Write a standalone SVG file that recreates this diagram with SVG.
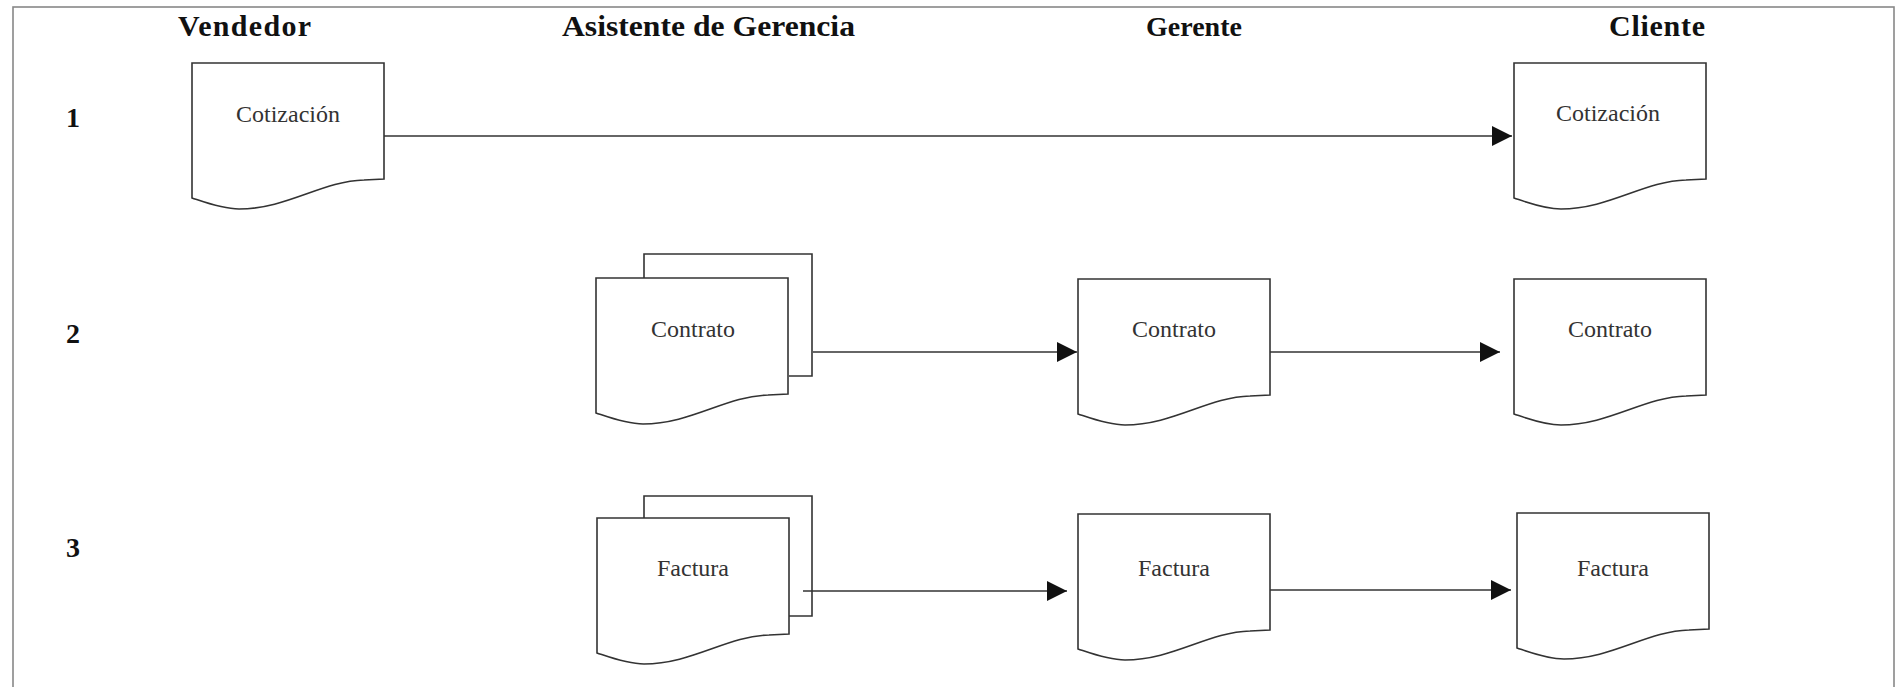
<svg xmlns="http://www.w3.org/2000/svg" width="1902" height="687" viewBox="0 0 1902 687">
<style>
.hdr{font-family:"Liberation Serif","Times New Roman",serif;font-weight:bold;font-size:30px;fill:#111}
.num{font-family:"Liberation Serif","Times New Roman",serif;font-weight:bold;font-size:28px;fill:#111}
.lbl{font-family:"Liberation Serif","Times New Roman",serif;font-size:24px;fill:#333;text-anchor:middle}
.doc{fill:#fff;stroke:#333;stroke-width:1.6}
.back{fill:none;stroke:#333;stroke-width:1.6}
.conn{stroke:#333;stroke-width:1.6;fill:none}
</style>
<defs>
<path id="docshape" d="M0,0 H192 V116 L172,117 C130,118 95,146 47,146 C30,146 12,139 0,135 Z"/>
<marker id="arr" markerUnits="userSpaceOnUse" markerWidth="20" markerHeight="20" refX="20" refY="10" orient="auto">
<path d="M0,0 L20,10 L0,20 Z" fill="#111"/>
</marker>
</defs>
<rect x="13" y="7" width="1881" height="690" fill="none" stroke="#888" stroke-width="1.6"/>
<g id="headers">
<text class="hdr" x="178" y="36" textLength="133" lengthAdjust="spacing">Vendedor</text>
<text class="hdr" x="562" y="36" textLength="293" lengthAdjust="spacingAndGlyphs">Asistente de Gerencia</text>
<text class="hdr" x="1146" y="36" style="font-size:28px">Gerente</text>
<text class="hdr" x="1609" y="36" textLength="96" lengthAdjust="spacing">Cliente</text>
</g>
<g id="rows">
<text class="num" x="66" y="127">1</text>
<text class="num" x="66" y="343">2</text>
<text class="num" x="66" y="557">3</text>
</g>
<g id="connectors">
<line class="conn" x1="383" y1="136" x2="1512" y2="136" marker-end="url(#arr)"/>
<line class="conn" x1="813" y1="352" x2="1077" y2="352" marker-end="url(#arr)"/>
<line class="conn" x1="1270" y1="352" x2="1500" y2="352" marker-end="url(#arr)"/>
<line class="conn" x1="803" y1="591" x2="1067" y2="591" marker-end="url(#arr)"/>
<line class="conn" x1="1270" y1="590" x2="1511" y2="590" marker-end="url(#arr)"/>
</g>
<g id="vendedor-cotizacion" transform="translate(192,63)">
<use href="#docshape" class="doc"/>
<text class="lbl" x="96" y="59">Cotización</text>
</g>
<g id="cliente-cotizacion" transform="translate(1514,63)">
<use href="#docshape" class="doc"/>
<text class="lbl" x="94" y="58">Cotización</text>
</g>
<g id="asistente-contrato">
<path class="back" d="M644,278 V254 H812 V376 H789"/>
<g transform="translate(596,278)">
<use href="#docshape" class="doc"/>
<text class="lbl" x="97" y="59">Contrato</text>
</g>
</g>
<g id="gerente-contrato" transform="translate(1078,279)">
<use href="#docshape" class="doc"/>
<text class="lbl" x="96" y="58">Contrato</text>
</g>
<g id="cliente-contrato" transform="translate(1514,279)">
<use href="#docshape" class="doc"/>
<text class="lbl" x="96" y="58">Contrato</text>
</g>
<g id="asistente-factura">
<path class="back" d="M644,518 V496 H812 V616 H789"/>
<g transform="translate(597,518)">
<use href="#docshape" class="doc"/>
<text class="lbl" x="96" y="58">Factura</text>
</g>
</g>
<g id="gerente-factura" transform="translate(1078,514)">
<use href="#docshape" class="doc"/>
<text class="lbl" x="96" y="62">Factura</text>
</g>
<g id="cliente-factura" transform="translate(1517,513)">
<use href="#docshape" class="doc"/>
<text class="lbl" x="96" y="63">Factura</text>
</g>
</svg>
